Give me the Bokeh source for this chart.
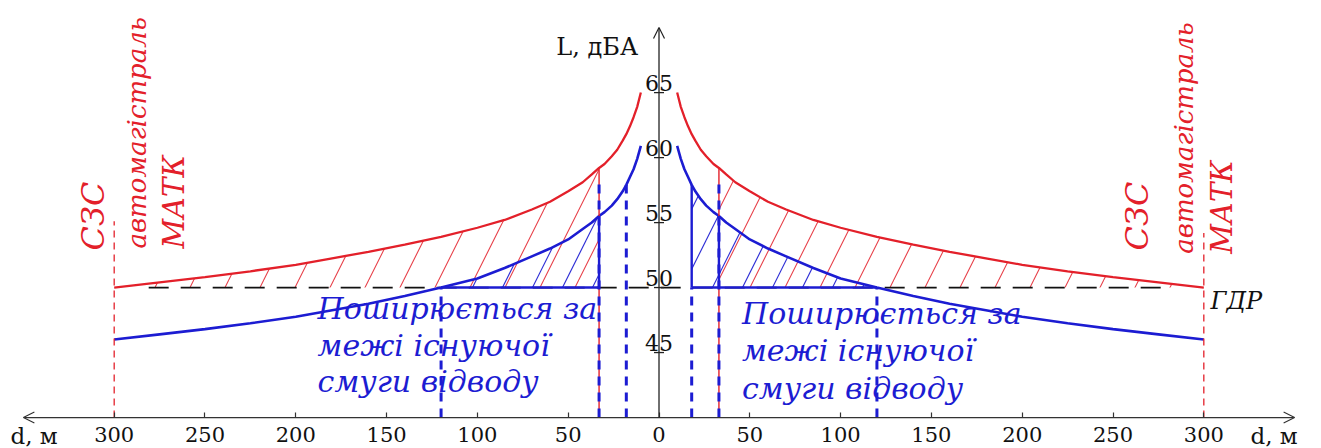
import math
from bokeh.plotting import figure
from bokeh.models import Range1d, FixedTicker, Arrow, OpenHead
from bokeh.core.properties import value
from bokeh.embed import file_html
from bokeh.resources import INLINE

# ---------------- data ----------------
# red: МАТК (motorway) noise level vs distance, dBA
red_d = [10, 12, 14, 16, 18, 20, 23, 26, 30, 33, 37, 42, 50, 60, 70, 85, 100, 120, 140, 160, 180, 200, 225, 250, 275, 300]
red_L = [65.0, 63.9, 63.1, 62.4, 61.8, 61.3, 60.6, 60.1, 59.5, 59.2, 58.7, 58.1, 57.4, 56.6, 56.0, 55.2,
         54.6, 53.9, 53.3, 52.75, 52.25, 51.75, 51.25, 50.8, 50.4, 50.0]
# blue: noise level after measures
blue_d = [10, 12, 14, 16, 18, 20, 23, 26, 30, 33, 37, 42, 50, 60, 70, 85, 100, 120, 140, 160, 180, 200, 225, 250, 275, 300]
blue_L = [60.9, 59.9, 59.1, 58.5, 57.9, 57.4, 56.8, 56.3, 55.8, 55.5, 55.0, 54.5, 53.7, 53.0, 52.4, 51.5,
          50.7, 50.0, 49.35, 48.75, 48.25, 47.75, 47.25, 46.8, 46.4, 46.0]

gdr_level = 50          # ГДР
gdr_extent = 281
szs_d = 300             # СЗС boundary
szs_top = [55.1, 54.2]  # left, right tops of the СЗС dashed lines
strip_d = 33            # existing strip boundary
inner_d = 18            # inner blue boundary
cross_d = 120           # blue curve crosses ГДР
strip_dash_top = 58.0

x_ticks = [-300, -250, -200, -150, -100, -50, 0, 50, 100, 150, 200, 250, 300]
x_tick_labels = ["300", "250", "200", "150", "100", "50", "0", "50", "100", "150", "200", "250", "300"]
y_ticks = [45, 50, 55, 60, 65]
y_tick_labels = ["45", "50", "55", "60", "65"]
axis_x = [-350, 350]
axis_y = [40, 70]

RED = "#e3202a"
BLUE = "#1c1cd2"
FONT = "DejaVu Serif"
SERIF = value(FONT)

p = figure(width=1321, height=448,
           x_range=Range1d(-362.6, 364.8), y_range=Range1d(37.62, 72.08),
           min_border=0, toolbar_location=None, output_backend="svg",
           y_axis_location=None, outline_line_color=None)
p.xgrid.visible = False
p.ygrid.visible = False
p.background_fill_color = "white"

# ---- x axis (fixed at L=40) ----
xa = p.xaxis[0]
xa.fixed_location = axis_y[0]
xa.ticker = FixedTicker(ticks=x_ticks)
xa.major_label_overrides = {t: s for t, s in zip(x_ticks, x_tick_labels)}
xa.axis_line_color = None
xa.major_tick_in = 5
xa.major_tick_out = 0
xa.major_tick_line_color = "#333333"
xa.major_tick_line_width = 1.2
xa.minor_tick_line_color = None
xa.major_label_standoff = 9
xa.major_label_text_font = FONT
xa.major_label_text_font_size = "21px"
xa.major_label_text_color = "#111111"

def at(ds, Ls, d):
    return Ls[ds.index(d)]

def sub(ds, Ls, lo, hi):
    pairs = [(d, L) for d, L in zip(ds, Ls) if lo <= d <= hi]
    return [d for d, _ in pairs], [L for _, L in pairs]

# ---- hatched areas ----
rd, rL = sub(red_d, red_L, strip_d, szs_d)
for sgn in (-1, 1):
    p.varea(x=[sgn * d for d in rd], y1=[gdr_level] * len(rd), y2=rL, fill_color=None,
            hatch_pattern="/", hatch_color=RED, hatch_scale=70, hatch_weight=1.1, hatch_alpha=0.85)
bd, bL = sub(blue_d, blue_L, strip_d, cross_d)
p.varea(x=[-d for d in bd], y1=[gdr_level] * len(bd), y2=bL, fill_color=None,
        hatch_pattern="/", hatch_color=BLUE, hatch_scale=60, hatch_weight=1.2, hatch_alpha=0.9)
bd2, bL2 = sub(blue_d, blue_L, inner_d, cross_d)
p.varea(x=bd2, y1=[gdr_level] * len(bd2), y2=bL2, fill_color=None,
        hatch_pattern="/", hatch_color=BLUE, hatch_scale=60, hatch_weight=1.2, hatch_alpha=0.9)

# ---- ГДР line ----
p.line(x=[-gdr_extent, gdr_extent], y=[gdr_level, gdr_level], line_color="#111111",
       line_width=1.7, line_dash="20 12")

# ---- curves ----
p.line(x=[-d for d in red_d], y=red_L, line_color=RED, line_width=2.3)
p.line(x=red_d, y=red_L, line_color=RED, line_width=2.3)
p.line(x=[-d for d in blue_d], y=blue_L, line_color=BLUE, line_width=2.6)
p.line(x=blue_d, y=blue_L, line_color=BLUE, line_width=2.6)

# ---- vertical lines ----
y0 = axis_y[0]
p.segment(x0=[-szs_d, szs_d], y0=[y0, y0], x1=[-szs_d, szs_d], y1=szs_top,
          line_color=RED, line_width=1.3, line_dash="7 5")
r33 = at(red_d, red_L, strip_d)
b33 = at(blue_d, blue_L, strip_d)
p.segment(x0=[-strip_d, strip_d], y0=[y0, y0], x1=[-strip_d, strip_d], y1=[r33, r33],
          line_color=RED, line_width=1.4)
p.segment(x0=[-strip_d, strip_d], y0=[y0, y0], x1=[-strip_d, strip_d],
          y1=[strip_dash_top, strip_dash_top], line_color=BLUE, line_width=3, line_dash="9 7")
p.segment(x0=[-strip_d, strip_d], y0=[gdr_level, gdr_level], x1=[-strip_d, strip_d], y1=[b33, b33],
          line_color=BLUE, line_width=2.4)
b18 = at(blue_d, blue_L, inner_d)
p.segment(x0=[-inner_d], y0=[y0], x1=[-inner_d], y1=[b18], line_color=BLUE, line_width=3, line_dash="9 7")
p.segment(x0=[inner_d], y0=[y0], x1=[inner_d], y1=[gdr_level], line_color=BLUE, line_width=3, line_dash="9 7")
p.segment(x0=[inner_d], y0=[gdr_level], x1=[inner_d], y1=[b18], line_color=BLUE, line_width=2.4)
p.segment(x0=[-cross_d, cross_d], y0=[y0, y0], x1=[-cross_d, cross_d], y1=[gdr_level, gdr_level],
          line_color=BLUE, line_width=3, line_dash="9 7")
p.segment(x0=[-cross_d, inner_d], y0=[gdr_level, gdr_level], x1=[-strip_d, cross_d],
          y1=[gdr_level, gdr_level], line_color=BLUE, line_width=2.4)

# ---- axes arrows ----
p.add_layout(Arrow(start=OpenHead(size=11, line_width=1.2, line_color="#333333"),
                   end=OpenHead(size=11, line_width=1.2, line_color="#333333"),
                   x_start=axis_x[0], y_start=axis_y[0], x_end=axis_x[1], y_end=axis_y[0],
                   line_color="#333333", line_width=1.3))
p.add_layout(Arrow(end=OpenHead(size=11, line_width=1.2, line_color="#222222"),
                   x_start=0, y_start=axis_y[0], x_end=0, y_end=axis_y[1],
                   line_color="#222222", line_width=1.3))
p.scatter(x=[0] * len(y_ticks), y=y_ticks, marker="dash", size=10, line_color="#222222", line_width=1.3)
p.text(x=[0] * len(y_ticks), y=y_ticks, text=y_tick_labels, text_align="center",
       text_baseline="middle", y_offset=-10, text_font=SERIF, text_font_size="22px",
       text_color="#111111")

# ---- labels ----
p.text(x=[-34], y=[68.5], text=["L, дБА"], text_align="center", text_baseline="middle",
       text_font=SERIF, text_font_size="24px", text_color="#111111")
p.text(x=[-357.1, 325.7], y=[38.6, 38.6], text=["d, м", "d, м"], text_align="left",
       text_baseline="middle", text_font=SERIF, text_font_size="23px", text_color="#111111")
p.text(x=[303.7], y=[49.0], text=["ГДР"], text_align="left", text_baseline="middle",
       text_font=SERIF, text_font_style="italic", text_font_size="24px", text_color="#111111")

rot_x = [-311.9, -287.2, -266.8, 263.2, 289.0, 310.1]
rot_y = [52.85, 53.0, 53.0, 52.85, 52.6, 52.6]
rot_t = ["СЗС", "автомагістраль", "МАТК", "СЗС", "автомагістраль", "МАТК"]
rot_s = ["32px", "26px", "29px", "32px", "26px", "29px"]
for x, y, t, s in zip(rot_x, rot_y, rot_t, rot_s):
    p.text(x=[x], y=[y], text=[t], angle=math.pi / 2, text_align="left",
           text_baseline="middle", text_font=SERIF, text_font_style="italic",
           text_font_size=s, text_color=RED)

blue_txt = ["Поширюється за", "межі існуючої", "смуги відводу"]
p.text(x=[-188] * 3, y=[48.42, 45.58, 42.81], text=blue_txt, text_align="left",
       text_baseline="middle", text_font=SERIF, text_font_style="italic",
       text_font_size="30px", text_color=BLUE)
p.text(x=[45.7] * 3, y=[48.04, 45.12, 42.27], text=blue_txt, text_align="left",
       text_baseline="middle", text_font=SERIF, text_font_style="italic",
       text_font_size="30px", text_color=BLUE)

open("out.html", "w").write(file_html(p, INLINE))
